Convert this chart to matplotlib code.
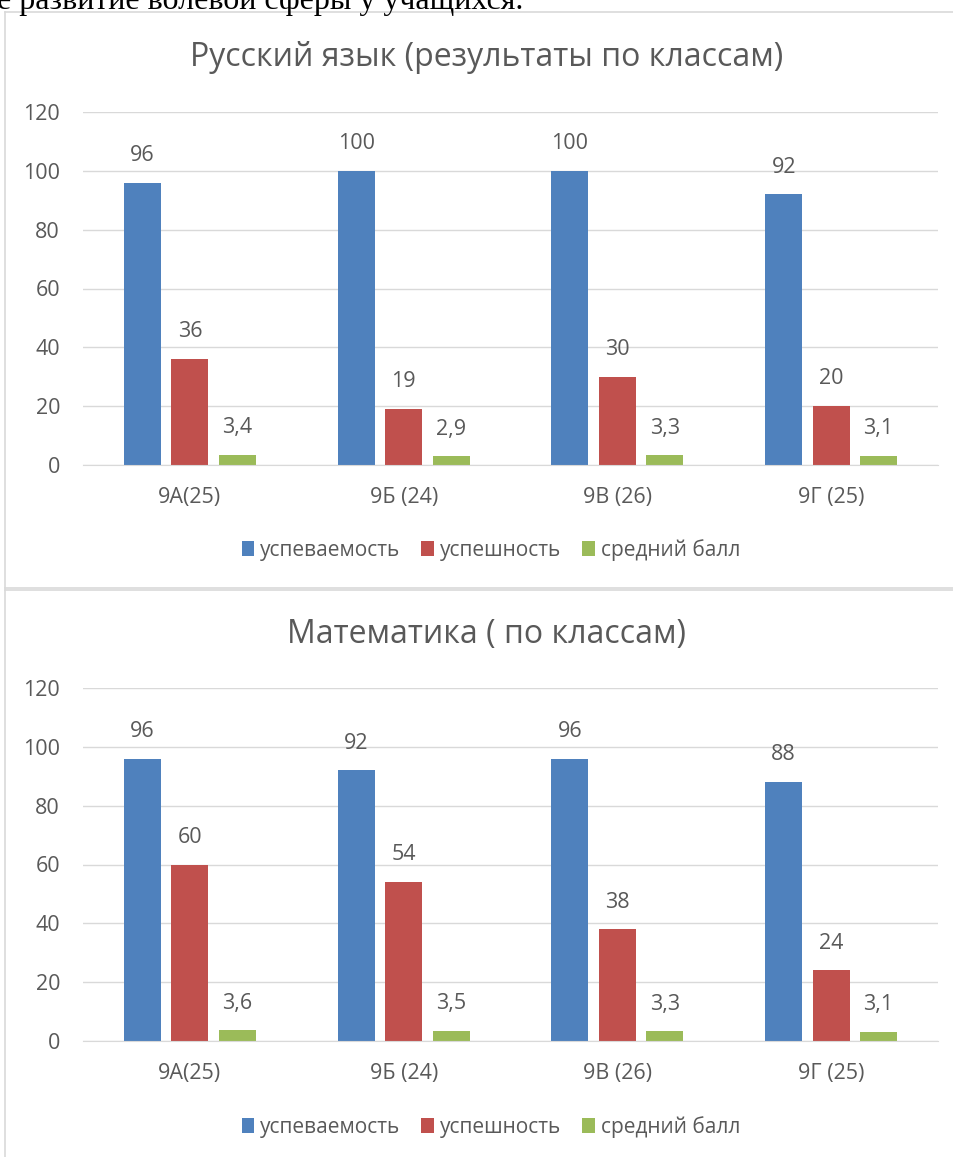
import matplotlib
matplotlib.use("Agg")
import matplotlib.pyplot as plt
import numpy as np
from matplotlib.lines import Line2D
from matplotlib.patches import Patch

categories = ["9А(25)", "9Б (24)", "9В (26)", "9Г (25)"]
series_names = ["успеваемость", "успешность", "средний балл"]
rus_uspev = [96, 100, 100, 92]
rus_uspesh = [36, 19, 30, 20]
rus_ball = [3.4, 2.9, 3.3, 3.1]
mat_uspev = [96, 92, 96, 88]
mat_uspesh = [60, 54, 38, 24]
mat_ball = [3.6, 3.5, 3.3, 3.1]
yticks = [0, 20, 40, 60, 80, 100, 120]
title1 = "Русский язык (результаты по классам)"
title2 = "Математика ( по классам)"
top_text = "е развитие волевой сферы у учащихся."

colors = ["#4F81BD", "#C0504D", "#9BBB59"]
txt = "#595959"
grid = "#D9D9D9"
fam = ["Open Sans", "DejaVu Sans"]
plt.rcParams["font.family"] = fam

W, H = 954, 1157
fig = plt.figure(figsize=(W / 100, H / 100), dpi=100)

def fx(p):
    return p / W

def fy(p):
    return 1 - p / H

def fmt(v):
    if float(v).is_integer():
        return str(int(v))
    return ("%g" % v).replace(".", ",")

FS = 15.5

def draw(ax, data):
    x = np.arange(len(categories))
    step = 0.222
    width = 0.173
    for i, (vals, c) in enumerate(zip(data, colors)):
        pos = x + (i - 1) * step
        bars = ax.bar(pos, vals, width=width, color=c, zorder=3)
        for b, v in zip(bars, vals):
            ax.annotate(fmt(v), (b.get_x() + b.get_width() / 2, v),
                        xytext=(0, 12), textcoords="offset points",
                        ha="center", va="bottom", fontsize=FS, color=txt)
    ax.set_xlim(-0.5, len(categories) - 0.5)
    ax.set_ylim(0, 120)
    ax.set_yticks(yticks)
    ax.set_xticks(x)
    ax.set_xticklabels(categories)
    ax.tick_params(axis="both", length=0, labelsize=FS, colors=txt)
    ax.tick_params(axis="y", pad=16.5)
    ax.tick_params(axis="x", pad=16)
    ax.grid(axis="y", color=grid, linewidth=1, zorder=0)
    for s in ["left", "right", "top"]:
        ax.spines[s].set_visible(False)
    ax.spines["bottom"].set_color(grid)
    ax.spines["bottom"].set_zorder(4)

ax1 = fig.add_axes([fx(83), fy(465), fx(938 - 83), (465 - 112) / H])
draw(ax1, [rus_uspev, rus_uspesh, rus_ball])
ax2 = fig.add_axes([fx(83), fy(1041), fx(938 - 83), (1041 - 688) / H])
draw(ax2, [mat_uspev, mat_uspesh, mat_ball])

fig.text(fx(487), fy(58), title1, ha="center", va="center", fontsize=23, color=txt)
fig.text(fx(487), fy(634), title2, ha="center", va="center", fontsize=23, color=txt)

handles = [Patch(facecolor=c, edgecolor="none") for c in colors]
for yy in (550, 1127):
    fig.legend(handles, series_names, loc="center", bbox_to_anchor=(fx(491), fy(yy)),
               ncol=3, frameon=False, fontsize=15, labelcolor=txt,
               handlelength=0.6, handleheight=0.75, handletextpad=0.3, columnspacing=1.0)

# top clipped text (clipped at the page edge as in the reference)
fig.text(fx(-3), fy(9), top_text, ha="left", va="baseline", fontsize=23,
         family=["Liberation Serif", "DejaVu Serif"], color="black")

# panel borders
bc = "#D9D9D9"
fig.add_artist(Line2D([fx(5), fx(5)], [fy(12), fy(588)], color=bc, lw=1.2))
fig.add_artist(Line2D([fx(5), 1], [fy(12), fy(12)], color=bc, lw=1.2))
fig.add_artist(Line2D([fx(5), 1], [fy(588), fy(588)], color=bc, lw=1.2))
fig.add_artist(Line2D([fx(5), 1], [fy(590), fy(590)], color=bc, lw=1.2))
fig.add_artist(Line2D([fx(5), fx(5)], [fy(590), 0], color=bc, lw=1.2))

fig.savefig("out.png", dpi=100)
